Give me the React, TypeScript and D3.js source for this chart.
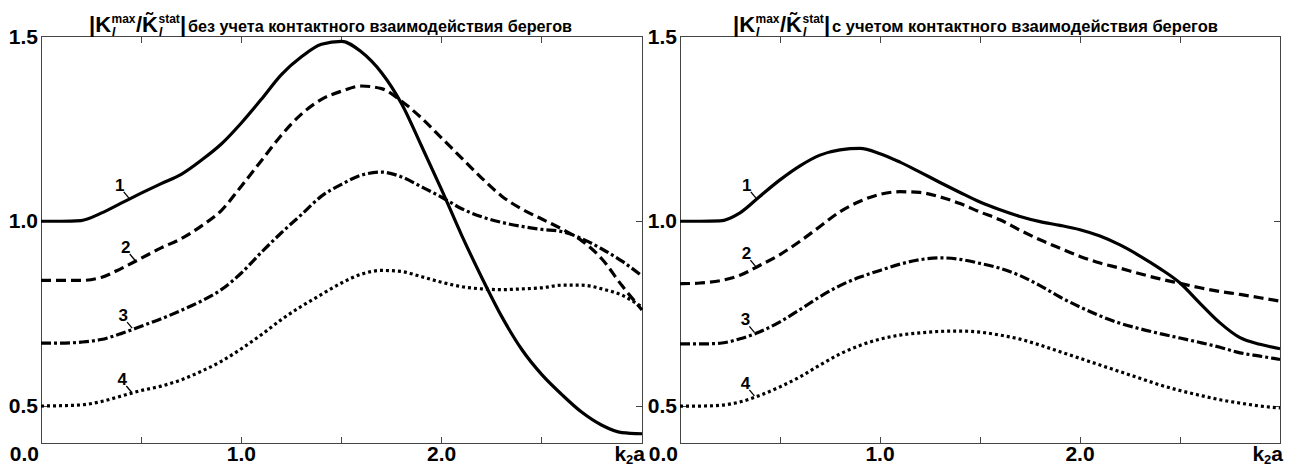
import React from 'react';
import * as d3 from 'd3';

// k2a grid the curves were read at
const kValues = [
  0.0, 0.1, 0.2, 0.3, 0.4, 0.5, 0.6, 0.7, 0.8, 0.9,
  1.0, 1.1, 1.2, 1.3, 1.4, 1.5, 1.6, 1.7, 1.8, 1.9,
  2.0, 2.1, 2.2, 2.3, 2.4, 2.5, 2.6, 2.7, 2.8, 2.9, 3.0
];

// left panel: without crack face contact
const left1 = [1.000, 1.000, 1.002, 1.022, 1.049, 1.076, 1.102, 1.127, 1.165, 1.209,
  1.266, 1.330, 1.397, 1.445, 1.479, 1.487, 1.458, 1.402, 1.318, 1.203,
  1.085, 0.962, 0.848, 0.742, 0.653, 0.585, 0.531, 0.483, 0.448, 0.428, 0.425];
const left2 = [0.840, 0.840, 0.840, 0.848, 0.872, 0.900, 0.928, 0.953, 0.987, 1.029,
  1.095, 1.164, 1.233, 1.290, 1.330, 1.352, 1.366, 1.359, 1.325, 1.279,
  1.225, 1.171, 1.117, 1.068, 1.033, 1.006, 0.979, 0.947, 0.898, 0.826, 0.760];
const left3 = [0.670, 0.670, 0.673, 0.680, 0.696, 0.716, 0.736, 0.759, 0.784, 0.815,
  0.860, 0.916, 0.969, 1.018, 1.068, 1.100, 1.125, 1.133, 1.120, 1.093,
  1.065, 1.034, 1.012, 0.997, 0.986, 0.978, 0.972, 0.953, 0.925, 0.892, 0.852];
const left4 = [0.500, 0.501, 0.503, 0.512, 0.527, 0.542, 0.554, 0.571, 0.594, 0.621,
  0.655, 0.693, 0.734, 0.770, 0.802, 0.833, 0.857, 0.867, 0.864, 0.850,
  0.835, 0.823, 0.817, 0.815, 0.817, 0.820, 0.827, 0.827, 0.817, 0.800, 0.768];

// right panel: with crack face contact
const right1 = [1.000, 1.000, 1.001, 1.023, 1.068, 1.112, 1.150, 1.179, 1.193, 1.197,
  1.183, 1.160, 1.133, 1.105, 1.078, 1.052, 1.031, 1.013, 0.999, 0.989,
  0.977, 0.960, 0.936, 0.906, 0.872, 0.833, 0.778, 0.725, 0.685, 0.667, 0.655];
const right2 = [0.831, 0.833, 0.839, 0.854, 0.881, 0.910, 0.946, 0.986, 1.026, 1.054,
  1.073, 1.080, 1.078, 1.066, 1.048, 1.025, 1.004, 0.976, 0.950, 0.927,
  0.905, 0.887, 0.873, 0.858, 0.844, 0.832, 0.820, 0.810, 0.802, 0.793, 0.784];
const right3 = [0.668, 0.668, 0.670, 0.682, 0.701, 0.728, 0.761, 0.796, 0.826, 0.849,
  0.867, 0.884, 0.896, 0.901, 0.897, 0.886, 0.873, 0.853, 0.826, 0.795,
  0.768, 0.744, 0.724, 0.709, 0.696, 0.684, 0.672, 0.659, 0.644, 0.635, 0.626];
const right4 = [0.500, 0.500, 0.502, 0.511, 0.529, 0.552, 0.579, 0.611, 0.641, 0.664,
  0.681, 0.692, 0.698, 0.702, 0.703, 0.700, 0.692, 0.681, 0.665, 0.647,
  0.629, 0.611, 0.593, 0.575, 0.557, 0.542, 0.529, 0.517, 0.508, 0.500, 0.495];

const curveNames = ['1', '2', '3', '4'];
const leftLabelK = [0.443, 0.473, 0.46, 0.456];
const rightLabelK = [0.384, 0.382, 0.377, 0.377];

const xTickValues = [0.5, 1.0, 1.5, 2.0, 2.5];
const xLabelValues = [1.0, 2.0];
const xLabelTexts = ['1.0', '2.0'];
const yTickValues = [0.5, 1.0];
const yLabelValues = [0.5, 1.0, 1.5];
const yLabelTexts = ['0.5', '1.0', '1.5'];

const leftTitle = 'без учета контактного взаимодействия берегов';
const rightTitle = 'с учетом контактного взаимодействия берегов';

const W = 1291, H = 467;
const plotTop = 36.5, plotBottom = 443;
const dashes = [undefined, '10 5', '10 3 3 3', '3 3'];
const font = '"Liberation Sans", Arial, sans-serif';

const Panel = ({ x0, x1, series, labelK, title, titleX, titleLen }) => {
  const x = d3.scaleLinear().domain([0, 3]).range([x0, x1]);
  const y = d3.scaleLinear().domain([0.4, 1.5]).range([plotBottom, plotTop]);
  const line = d3.line<number>()
    .x((d, i) => x(kValues[i]))
    .y(d => y(d))
    .curve(d3.curveMonotoneX);

  return (
    <g>
      <rect x={x0} y={plotTop} width={x1 - x0} height={plotBottom - plotTop}
        fill="none" stroke="#444" strokeWidth={1} shapeRendering="crispEdges" />
      {xTickValues.map(v => (
        <g key={v} stroke="#444" shapeRendering="crispEdges">
          <line x1={x(v)} x2={x(v)} y1={plotBottom} y2={plotBottom - 6} />
          <line x1={x(v)} x2={x(v)} y1={plotTop} y2={plotTop + 6} />
        </g>
      ))}
      {yTickValues.map(v => (
        <g key={v} stroke="#444" shapeRendering="crispEdges">
          <line x1={x0} x2={x0 + 6} y1={y(v)} y2={y(v)} />
          <line x1={x1} x2={x1 - 6} y1={y(v)} y2={y(v)} />
        </g>
      ))}

      {series.map((s, i) => (
        <path key={i} d={line(s) || ''} fill="none" stroke="#000"
          strokeWidth={3.2} strokeDasharray={dashes[i]} />
      ))}

      {series.map((s, i) => {
        const f = d3.scaleLinear().domain(kValues).range(s);
        const ex = x(labelK[i]);
        const ey = y(f(labelK[i]));
        return (
          <g key={'l' + i}>
            <line x1={ex - 6} y1={ey - 7} x2={ex - 1} y2={ey - 1} stroke="#000" strokeWidth={1.3} />
            <text x={ex - 10} y={ey - 8} textAnchor="middle" fontFamily={font}
              fontWeight="bold" fontSize={17}>{curveNames[i]}</text>
          </g>
        );
      })}

      {yLabelValues.map((v, i) => (
        <text key={v} x={x0 - 3} y={y(v) + 7} textAnchor="end" fontFamily={font}
          fontWeight="bold" fontSize={21}>{yLabelTexts[i]}</text>
      ))}
      <text x={x0 - 2} y={461} textAnchor="end" fontFamily={font} fontWeight="bold" fontSize={21}>0.0</text>
      {xLabelValues.map((v, i) => (
        <text key={v} x={x(v)} y={461} textAnchor="middle" fontFamily={font}
          fontWeight="bold" fontSize={21}>{xLabelTexts[i]}</text>
      ))}
      <text x={x1 + 3} y={461} textAnchor="end" fontFamily={font} fontWeight="bold" fontSize={21}>
        k<tspan fontSize={13} dy={3}>2</tspan><tspan dy={-3}>a</tspan>
      </text>

      <g transform={`translate(${titleX},32)`} fontFamily={font} fontWeight="bold">
        <text x={0} y={0} fontSize={22}>|K</text>
        <text x={22.5} y={-9} fontSize={12}>max</text>
        <text x={23} y={4} fontSize={12} fontStyle="italic">I</text>
        <text x={47} y={0} fontSize={22}>/K{'\u0303'}</text>
        <text x={69.5} y={-9} fontSize={12}>stat</text>
        <text x={70} y={4} fontSize={12} fontStyle="italic">I</text>
        <text x={91} y={0} fontSize={22}>|</text>
        <text x={99} y={0} fontSize={17} textLength={titleLen} lengthAdjust="spacingAndGlyphs"
          fontFamily={'"Liberation Sans Narrow", "Arial Narrow", ' + font}>{title}</text>
      </g>
    </g>
  );
};

export default function App() {
  return (
    <svg width={W} height={H} style={{ position: 'absolute', left: 0, top: 0, background: '#fff' }}>
      <Panel x0={41} x1={642} series={[left1, left2, left3, left4]} labelK={leftLabelK}
        title={leftTitle} titleX={89} titleLen={384} />
      <Panel x0={680} x1={1280} series={[right1, right2, right3, right4]} labelK={rightLabelK}
        title={rightTitle} titleX={733} titleLen={386} />
    </svg>
  );
}
